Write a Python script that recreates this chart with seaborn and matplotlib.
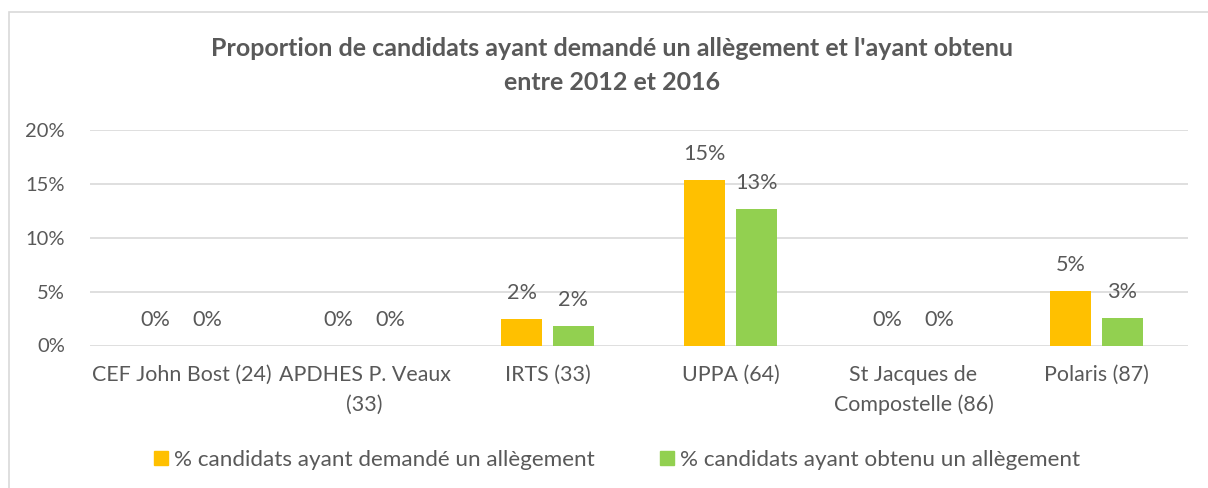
import matplotlib
matplotlib.use("Agg")
import matplotlib.pyplot as plt
import seaborn as sns
import pandas as pd
from matplotlib.patches import Rectangle
from matplotlib.ticker import FuncFormatter

categories = ["CEF John Bost (24)", "APDHES P. Veaux\n(33)", "IRTS (33)", "UPPA (64)",
              "St Jacques de\nCompostelle (86)", "Polaris (87)"]
series_names = ["% candidats ayant demandé un allègement", "% candidats ayant obtenu un allègement"]
demande = [0.0, 0.0, 2.5, 15.4, 0.0, 5.1]
obtenu = [0.0, 0.0, 1.8, 12.7, 0.0, 2.6]
labels_demande = ["0%", "0%", "2%", "15%", "0%", "5%"]
labels_obtenu = ["0%", "0%", "2%", "13%", "0%", "3%"]
yticks = [0, 5, 10, 15, 20]

rows = []
for c, v in zip(categories, demande):
    rows.append({"cat": c, "serie": series_names[0], "val": v})
for c, v in zip(categories, obtenu):
    rows.append({"cat": c, "serie": series_names[1], "val": v})
df = pd.DataFrame(rows)

sns.set_theme(style="white")
plt.rcParams["font.family"] = ["Lato", "DejaVu Sans"]
GRAY = "#595959"

fig = plt.figure(figsize=(12.08, 4.88), dpi=100)
W, H = 1208, 488
ax = fig.add_axes([90 / W, 1 - 345.5 / H, (1188 - 90) / W, (345.5 - 130.5) / H])

sns.barplot(data=df, x="cat", y="val", hue="serie", order=categories, hue_order=series_names,
            palette=["#FFC000", "#92D050"], width=0.568, gap=0.21, ax=ax, legend=False,
            saturation=1, linewidth=0, errorbar=None)

ax.set_ylim(0, 20)
ax.set_xlim(-0.5, len(categories) - 0.5)
ax.set_yticks(yticks)
ax.yaxis.set_major_formatter(FuncFormatter(lambda v, p: f"{int(v)}%"))
ax.grid(axis="y", color="#D9D9D9", linewidth=1.2)
ax.set_axisbelow(True)
for s in ax.spines.values():
    s.set_visible(False)
ax.set_xlabel("")
ax.set_ylabel("")
ax.tick_params(axis="y", length=0, pad=18, labelsize=14.5, labelcolor=GRAY)
ax.tick_params(axis="x", length=0, pad=14, labelsize=15.4, labelcolor=GRAY)
for t in ax.get_xticklabels():
    t.set_linespacing(1.6)
    t.set_verticalalignment("top")

for cont, labs in zip(ax.containers, [labels_demande, labels_obtenu]):
    for bar, lab in zip(cont, labs):
        ax.annotate(lab, (bar.get_x() + bar.get_width() / 2, bar.get_height()),
                    xytext=(0, 26), textcoords="offset pixels", ha="center", va="center",
                    fontsize=15.6, color=GRAY)

fig.text(612 / W, 1 - 48 / H, "Proportion de candidats ayant demandé un allègement et l'ayant obtenu",
         ha="center", va="center", fontsize=18, fontweight="bold", color=GRAY)
fig.text(612 / W, 1 - 82 / H, "entre 2012 et 2016",
         ha="center", va="center", fontsize=18, fontweight="bold", color=GRAY)

# legend
handles = [Rectangle((0, 0), 1, 1, color="#FFC000"), Rectangle((0, 0), 1, 1, color="#92D050")]
fig.legend(handles, series_names, loc="center", bbox_to_anchor=(617.5 / W, 1 - 460 / H), ncol=2,
           frameon=False, fontsize=16.2, labelcolor=GRAY, handlelength=0.62, handleheight=0.6,
           handletextpad=0.27, columnspacing=2.9)

# chart frame
fig.patches.append(Rectangle((8.5 / W, -0.1), 1.2, 1 - 12.5 / H + 0.1, transform=fig.transFigure,
                             fill=False, edgecolor="#D9D9D9", linewidth=1.2))

fig.savefig("out.png", dpi=100, facecolor="white")
